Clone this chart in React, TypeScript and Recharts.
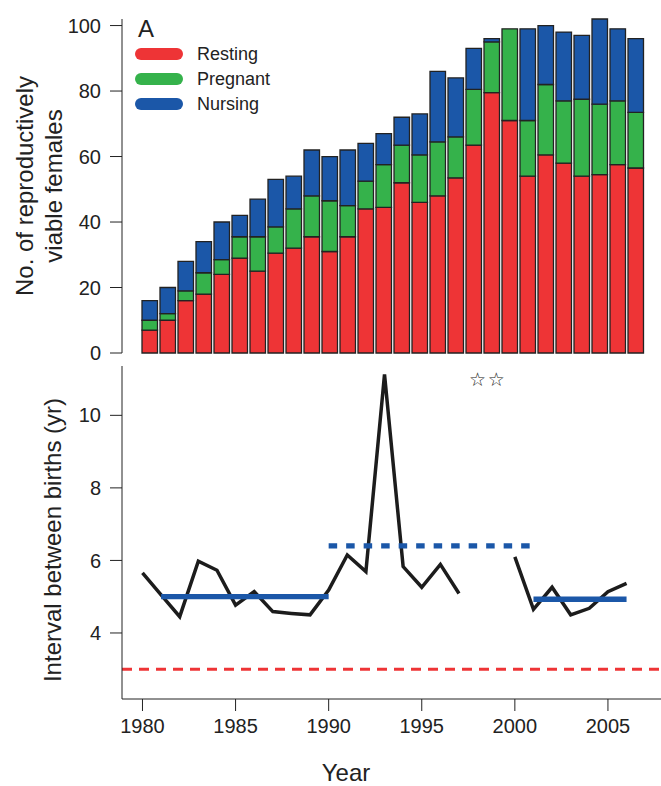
import React from "react";
import {
  Bar,
  BarChart,
  ComposedChart,
  Legend,
  Line,
  ReferenceLine,
  Scatter,
  XAxis,
  YAxis,
} from "recharts";

// Panel A: reproductively viable females per year, by state
const barYears = [
  1980, 1981, 1982, 1983, 1984, 1985, 1986, 1987, 1988, 1989, 1990, 1991, 1992, 1993,
  1994, 1995, 1996, 1997, 1998, 1999, 2000, 2001, 2002, 2003, 2004, 2005, 2006, 2007,
];
const resting = [
  7, 10, 16, 18, 24, 29, 25, 30.5, 32, 35.5, 31, 35.5, 44, 44.5,
  52, 46, 48, 53.5, 63.5, 79.5, 71, 54, 60.5, 58, 54, 54.5, 57.5, 56.5,
];
const pregnant = [
  3, 2, 3, 6.5, 4.5, 6.5, 10.5, 8, 12, 12.5, 15.5, 9.5, 8.5, 13,
  11.5, 14.5, 16.5, 12.5, 17, 15.5, 28, 17, 21.5, 19, 23.5, 21.5, 19.5, 17,
];
const nursing = [
  6, 8, 9, 9.5, 11.5, 6.5, 11.5, 14.5, 10, 14, 13.5, 17, 11.5, 9.5,
  8.5, 12.5, 21.5, 18, 12.5, 1, 0, 28, 18, 21, 19.5, 26, 22, 22.5,
];
const stateNames = ["Resting", "Pregnant", "Nursing"];

// Panel B: interval between births (yr); null = no data
const intervalYears = [
  1980, 1981, 1982, 1983, 1984, 1985, 1986, 1987, 1988, 1989, 1990, 1991, 1992, 1993,
  1994, 1995, 1996, 1997, 1998, 1999, 2000, 2001, 2002, 2003, 2004, 2005, 2006,
];
const intervals = [
  5.66, 5.05, 4.45, 5.98, 5.73, 4.77, 5.14, 4.59, 4.54, 4.5, 5.18, 6.15, 5.69, 11.13,
  5.83, 5.26, 5.89, 5.09, null, null, 6.1, 4.65, 5.26, 4.5, 4.68, 5.14, 5.37,
];
const periodStart = [1981, 1990, 2001];
const periodEnd = [1990, 2001, 2006];
const periodMean = [5.0, 6.4, 4.93];
const periodDashed = [false, true, false];
const replacementLevel = 3;
const starYears = [1998, 1999];
const starLevel = 11;
const xTicks = [1980, 1985, 1990, 1995, 2000, 2005];

const RED = "#ee3436";
const GREEN = "#35b24b";
const BLUE = "#1b57a8";
const INK = "#222";
const FONT = '"Liberation Sans", Arial, Helvetica, sans-serif';

const barRows = barYears.map((year, i) => ({
  year,
  resting: resting[i],
  pregnant: pregnant[i],
  nursing: nursing[i],
}));
const intervalRows = intervalYears.map((year, i) => ({ year, interval: intervals[i] }));
const starRows = starYears.map((year) => ({ year, interval: starLevel }));

const tickStyle = { fontSize: 20, fill: INK, fontFamily: FONT };

function renderLegend(props: any) {
  const payload = [...(props.payload ?? [])].sort(
    (a: any, b: any) => stateNames.indexOf(a.value) - stateNames.indexOf(b.value)
  );
  return (
    <div style={{ fontFamily: FONT, color: INK }}>
      <div style={{ fontSize: 24, lineHeight: "24px", height: 24.5, marginLeft: 3 }}>A</div>
      {payload.map((e: any) => (
        <div key={e.value} style={{ display: "flex", alignItems: "center", height: 25 }}>
          <span
            style={{
              display: "inline-block",
              width: 48,
              height: 12,
              borderRadius: 6,
              background: e.color,
              marginRight: 14,
            }}
          />
          <span style={{ fontSize: 18 }}>{e.value}</span>
        </div>
      ))}
    </div>
  );
}

function RotTitle({ x, y, text }: { x: number; y: number; text: string }) {
  return (
    <text
      x={x}
      y={y}
      transform={`rotate(-90 ${x} ${y})`}
      textAnchor="middle"
      fontSize={24}
      fontFamily={FONT}
      fill={INK}
    >
      {text}
    </text>
  );
}

function StarMark(p: any) {
  return (
    <text
      x={p.cx}
      y={p.cy}
      textAnchor="middle"
      dominantBaseline="central"
      fontSize={19}
      fontFamily='"DejaVu Sans", sans-serif'
      fill="#222"
    >
      ☆
    </text>
  );
}

export default function App() {
  const xDomain = [1978.9, 2007.85];
  return (
    <div
      style={{
        position: "absolute",
        left: 0,
        top: 0,
        width: 661,
        height: 786,
        background: "#fff",
        fontFamily: FONT,
      }}
    >
      <div style={{ position: "absolute", left: 0, top: 0 }}>
        <BarChart
          width={661}
          height={366}
          data={barRows}
          margin={{ top: 19, right: 16, bottom: 13, left: 0 }}
          barSize={15.5}
        >
          <XAxis dataKey="year" hide padding={{ left: 19, right: 0 }} />
          <YAxis
            width={122}
            domain={[0, 100]}
            ticks={[0, 20, 40, 60, 80, 100]}
            interval={0}
            tickSize={12}
            tickMargin={9}
            tick={tickStyle}
            stroke={INK}
            label={{
              content: () => (
                <g>
                  <RotTitle x={33} y={186} text="No. of reproductively" />
                  <RotTitle x={62} y={186} text="viable females" />
                </g>
              ),
            }}
          />
          <Legend
            layout="horizontal"
            verticalAlign="middle"
            align="center"
            content={renderLegend}
            wrapperStyle={{ left: 135, top: 17, width: 220, height: 100 }}
          />
          <Bar dataKey="resting" name="Resting" stackId="s" fill={RED} stroke={INK} strokeWidth={1.3} isAnimationActive={false} />
          <Bar dataKey="pregnant" name="Pregnant" stackId="s" fill={GREEN} stroke={INK} strokeWidth={1.3} isAnimationActive={false} />
          <Bar dataKey="nursing" name="Nursing" stackId="s" fill={BLUE} stroke={INK} strokeWidth={1.3} isAnimationActive={false} />
        </BarChart>
      </div>

      <div style={{ position: "absolute", left: 0, top: 340 }}>
        <ComposedChart width={661} height={446} margin={{ top: 26, right: 0, bottom: 0, left: 0 }}>
          <XAxis
            dataKey="year"
            type="number"
            domain={xDomain}
            ticks={xTicks}
            allowDataOverflow
            height={87}
            tickSize={12}
            tickMargin={8}
            tick={tickStyle}
            stroke={INK}
            label={{
              content: () => (
                <text x={346} y={441} textAnchor="middle" fontSize={24} fontFamily={FONT} fill={INK}>
                  Year
                </text>
              ),
            }}
          />
          <XAxis
            xAxisId="top"
            orientation="top"
            type="number"
            domain={xDomain}
            allowDataOverflow
            height={0}
            tick={false}
            tickLine={false}
            stroke={INK}
            label={{
              content: () => (
                <text x={137} y={55} fontSize={24} fontFamily={FONT} fill={INK}>
                  B
                </text>
              ),
            }}
          />
          <YAxis
            type="number"
            width={122}
            domain={[2.18, 11.36]}
            ticks={[4, 6, 8, 10]}
            interval={0}
            allowDataOverflow
            tickSize={12}
            tickMargin={9}
            tick={tickStyle}
            stroke={INK}
            label={{ content: () => <RotTitle x={61} y={200} text="Interval between births (yr)" /> }}
          />
          <ReferenceLine y={replacementLevel} stroke={RED} strokeWidth={3} strokeDasharray="10 7" />
          <Line
            data={intervalRows}
            dataKey="interval"
            type="linear"
            stroke="#1c1c1c"
            strokeWidth={3.5}
            dot={false}
            activeDot={false}
            connectNulls={false}
            isAnimationActive={false}
          />
          {periodStart.map((s, i) => (
            <ReferenceLine
              key={s}
              segment={[
                { x: s, y: periodMean[i] },
                { x: periodEnd[i], y: periodMean[i] },
              ]}
              stroke={BLUE}
              strokeWidth={5.3}
              strokeDasharray={periodDashed[i] ? "8.5 9" : undefined}
              ifOverflow="visible"
            />
          ))}
          <Scatter data={starRows} dataKey="interval" shape={StarMark} isAnimationActive={false} />
        </ComposedChart>
      </div>
    </div>
  );
}
